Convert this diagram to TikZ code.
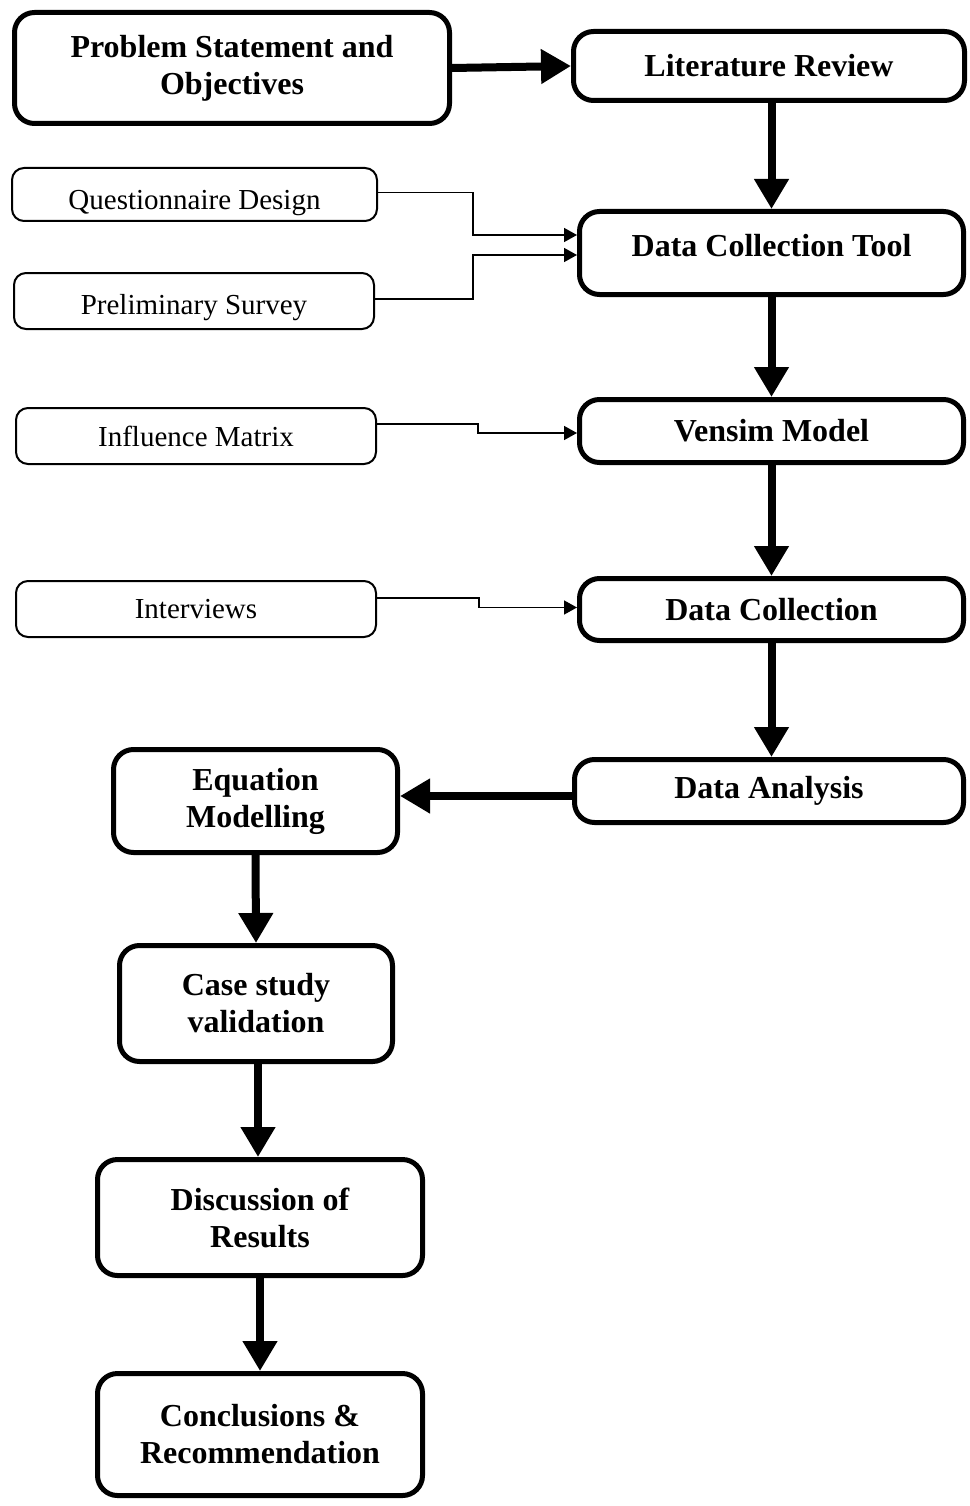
\documentclass[tikz,border=0pt]{standalone}
\usepackage{fontspec}
\setmainfont{Liberation Serif}
\usetikzlibrary{arrows.meta}

\begin{document}
\begin{tikzpicture}[
      bigbox/.style={draw, line width=5pt, rounded corners=20pt, align=center,
        font=\fontsize{32}{37}\selectfont\bfseries, inner sep=0pt},
      smallbox/.style={draw, line width=2pt, rounded corners=12pt, align=center,
        font=\fontsize{29}{34}\selectfont, inner sep=0pt},
      bigarrow/.style={line width=8pt, -{Triangle[length=30pt,width=33pt]}},
      smallarrow/.style={line width=1.6pt, -{Triangle[length=13pt,width=14pt]}}]
      \useasboundingbox (0,0) rectangle (969pt,-1506pt);
      % main column
      \node[bigbox, minimum width=435pt, minimum height=111pt] (ps) at (232pt,-68pt) {Problem Statement and\\Objectives};
      \node[bigbox, minimum width=391pt, minimum height=69pt] (lr) at (769pt,-66pt) {Literature Review};
      \node[bigbox, minimum width=384pt, minimum height=83pt, text height=14pt, text depth=8pt] (dct) at (771.5pt,-253pt) {Data Collection Tool};
      \node[bigbox, minimum width=384pt, minimum height=63pt] (vm) at (771.5pt,-431pt) {Vensim Model};
      \node[bigbox, minimum width=384pt, minimum height=62pt] (dc) at (771.5pt,-609.5pt) {Data Collection};
      \node[bigbox, minimum width=389pt, minimum height=63pt] (da) at (769pt,-791pt) {Data Analysis};
      \node[bigbox, minimum width=284pt, minimum height=103pt] (em) at (255.5pt,-801pt) {Equation\\Modelling};
      \node[bigbox, minimum width=273pt, minimum height=116pt] (cs) at (256pt,-1003.5pt) {Case study\\validation};
      \node[bigbox, minimum width=325pt, minimum height=116pt] (dr) at (260pt,-1217.5pt) {Discussion of\\Results};
      \node[bigbox, minimum width=325pt, minimum height=122pt] (cr) at (260pt,-1434.5pt) {Conclusions \&\\Recommendation};
      % side inputs
      \node[smallbox, minimum width=365pt, minimum height=53pt, text height=30pt, text depth=0pt] (qd) at (194.5pt,-194.5pt) {Questionnaire Design};
      \node[smallbox, minimum width=360pt, minimum height=56pt, text height=28pt, text depth=1.5pt] (pre) at (194pt,-301pt) {Preliminary Survey};
      \node[smallbox, minimum width=360pt, minimum height=56pt] (im) at (196pt,-436pt) {Influence Matrix};
      \node[smallbox, minimum width=360pt, minimum height=56pt] (iv) at (196pt,-609pt) {Interviews};

      \draw[bigarrow] (ps.east) -- (lr.west);
      \draw[bigarrow] (dct.north |- lr.south) -- (dct.north);
      \draw[bigarrow] (dct.south) -- (vm.north);
      \draw[bigarrow] (vm.south) -- (dc.north);
      \draw[bigarrow] (dc.south) -- (dc.south |- da.north);
      \draw[bigarrow] ([yshift=-5pt]da.west) -- ([yshift=5pt]em.east);
      \draw[bigarrow] (em.south) -- (cs.north);
      \draw[bigarrow] ([xshift=2pt]cs.south) -- ([xshift=-2pt]dr.north);
      \draw[bigarrow] (dr.south) -- (cr.north);

      \draw[smallarrow] ([yshift=2pt]qd.east) -- ++(95pt,0) |- ([yshift=18pt]dct.west);
      \draw[smallarrow] ([yshift=2pt]pre.east) -- ++(98pt,0) |- ([yshift=-2pt]dct.west);
      \draw[smallarrow] ([yshift=12pt]im.east) -- ++(101pt,0) |- ([yshift=-2pt]vm.west);
      \draw[smallarrow] ([yshift=11pt]iv.east) -- ++(102pt,0) |- ([yshift=2pt]dc.west);
    \end{tikzpicture}
\end{document}
